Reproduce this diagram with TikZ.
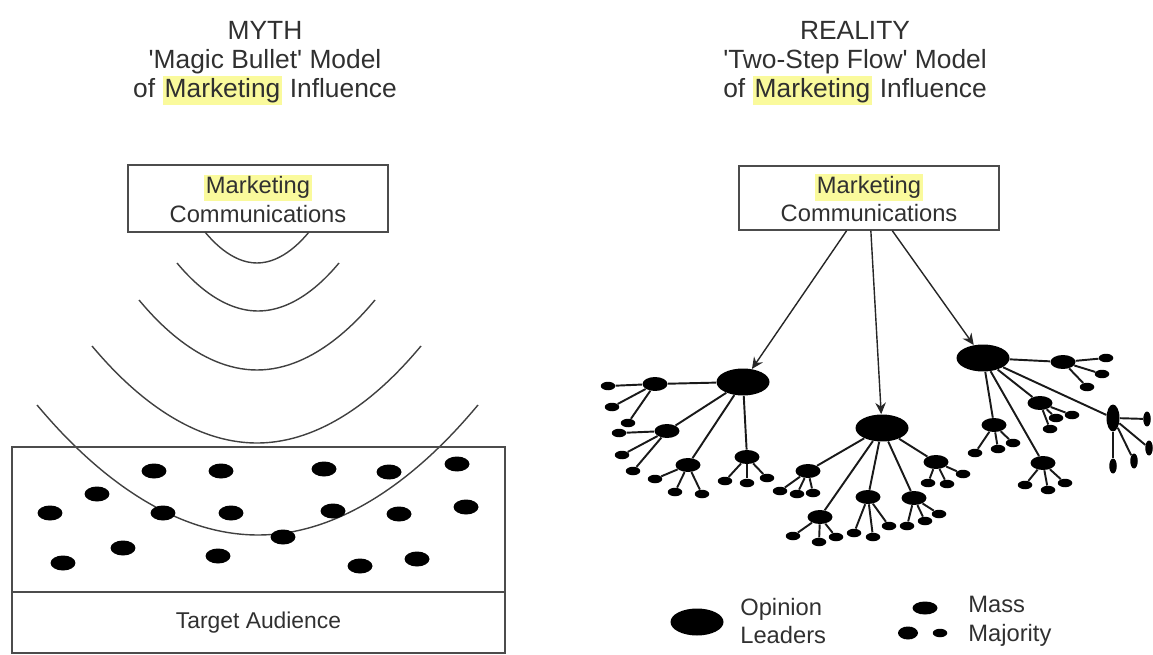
\documentclass[tikz,border=0pt]{standalone}
\usepackage{fontspec}
\setmainfont{Liberation Sans}
\usepackage{xcolor}
\usepackage{tikz}
\usetikzlibrary{arrows.meta,shapes.geometric}

\definecolor{hilite}{HTML}{FAFA9C}
\definecolor{inkgray}{HTML}{303030}
\newcommand{\mkhl}[1]{{\setlength{\fboxsep}{1.2pt}\colorbox{hilite}{#1}}}

\begin{document}
\begin{tikzpicture}[x=0.02cm, y=-0.02cm,
  every node/.style={text=inkgray},
  ttl/.style={align=center, font=\fontsize{15}{16.6}\selectfont},
  msgbox/.style={draw=black!70, line width=0.8pt, minimum width=5.2cm,
                 align=center, font=\fontsize{13.5}{16}\selectfont},
  frame/.style={draw=black!70, line width=0.8pt, minimum width=9.86cm},
  keytext/.style={anchor=west, inner sep=0pt, align=left,
                  font=\fontsize{13.5}{16.4}\selectfont},
  leader/.style={ellipse, fill=black, inner sep=0pt,
                 minimum width=1.06cm, minimum height=0.54cm},
  follower/.style={ellipse, fill=black, inner sep=0pt,
                   minimum width=0.5cm, minimum height=0.28cm},
  mass/.style={ellipse, fill=black, inner sep=0pt,
               minimum width=0.29cm, minimum height=0.17cm},
  crowd/.style={ellipse, fill=black, inner sep=0pt,
                minimum width=0.5cm, minimum height=0.3cm},
  link/.style={line width=1.1pt, black!90},
  push/.style={-{Stealth[length=6.5pt,width=6pt]}, line width=0.8pt, black!85},
  wave/.style={line width=0.8pt, black!75}]
  \useasboundingbox (0,0) rectangle (1153,655);

  % Titles
  \node[ttl] (mythTtl) at (265,63)
    {MYTH\\\textquotesingle Magic Bullet\textquotesingle{} Model\\of \mkhl{Marketing} Influence};
  \node[ttl] (realTtl) at (855,63)
    {REALITY\\\textquotesingle Two-Step Flow\textquotesingle{} Model\\of \mkhl{Marketing} Influence};

  % Left: sender, waves and audience
  \node[msgbox, minimum height=1.34cm] (lbox) at (258,198.5)
    {\mkhl{Marketing}\\Communications};
  \draw[wave] (205,232) parabola bend (257,263) (309,232);
  \draw[wave] (177,263) parabola bend (258,311) (339,263);
  \draw[wave] (139,300) parabola bend (257,370) (375,300);
  \draw[wave] (92,346) parabola bend (257,443) (421,346);
  \draw[wave] (37,405) parabola bend (258,535) (478,405);

  \node[frame, minimum height=2.9cm] (aud) at (258.5,519.5) {};
  \node[frame, minimum height=1.22cm, font=\fontsize{13}{15}\selectfont]
    (target) at (258.5,622.5) {Target Audience};
  \foreach \x/\y [count=\i] in {154/471, 221/471, 324/469, 389/472, 457/464,
      97/494, 50/513, 163/513, 231/513, 333/511, 399/514, 466/507,
      283/537, 123/548, 63/563, 218/556, 360/566, 417/559}
    \node[crowd] (crowd\i) at (\x,\y) {};

  % Right: sender and opinion leaders
  \node[msgbox, minimum height=1.28cm] (rbox) at (869,198)
    {\mkhl{Marketing}\\Communications};
  \node[leader] (ldrA) at (743,382) {};
  \node[leader] (ldrB) at (882,428) {};
  \node[leader] (ldrC) at (983,358) {};
  \foreach \n in {ldrA, ldrB, ldrC}
    \draw[push] (rbox) -- (\n);

  % Second step: followers of each leader
  \foreach \p/\n/\x/\y in {ldrA/fA1/655/384, ldrA/fA2/667/431, ldrA/fA3/688/465,
      ldrA/fA4/747/457, ldrB/fB1/808/471, ldrB/fB2/820/517, ldrB/fB3/868/497,
      ldrB/fB4/914/498, ldrB/fB5/936/462, ldrC/fC1/1063/362, ldrC/fC2/1040/403,
      ldrC/fC3/994/425, ldrC/fC4/1043/463}
  {
    \node[follower] (\n) at (\x,\y) {};
    \draw[link] (\p) -- (\n);
  }
  \node[follower, minimum width=0.26cm, minimum height=0.54cm] (fC5) at (1113,418) {};
  \draw[link] (ldrC) -- (fC5);

  % Mass majority
  \foreach \p/\x/\y [count=\i] in {fA1/608/386, fA1/612/407, fA1/628/423,
      fA2/619/433, fA2/622/455, fA2/633/471, fA3/655/479, fA3/675/492,
      fA3/702/494, fA4/725/481, fA4/747/483, fA4/767/478,
      fB1/780/491, fB1/797/494, fB1/813/493, fB2/793/536, fB2/819/542,
      fB2/836/537, fB3/854/533, fB3/873/537, fB3/889/526,
      fB4/907/526, fB4/925/521, fB4/939/514, fB5/928/483, fB5/947/484,
      fB5/963/474, fC1/1106/358, fC1/1102/374, fC1/1087/387,
      fC2/1072/415, fC2/1056/418, fC2/1050/429, fC3/975/453, fC3/998/449,
      fC3/1013/443, fC4/1025/485, fC4/1048/490, fC4/1065/483}
  {
    \node[mass] (m\i) at (\x,\y) {};
    \draw[link] (\p) -- (m\i);
  }
  \foreach \x/\y [count=\i] in {1147/419, 1149/448, 1134/461, 1113/466}
  {
    \node[mass, minimum width=0.15cm, minimum height=0.3cm] (v\i) at (\x,\y) {};
    \draw[link] (fC5) -- (v\i);
  }

  % Legend
  \node[leader] (keyLdr) at (697,622) {};
  \node[keytext] (keyLdrTxt) at (740,621) {Opinion\\Leaders};
  \node[follower, minimum height=0.26cm] (keyMassA) at (925,608) {};
  \node[follower, minimum width=0.4cm, minimum height=0.26cm] (keyMassB) at (908,633) {};
  \node[mass] (keyMassC) at (940,633) {};
  \node[keytext] (keyMassTxt) at (968,621) {Mass\\Majority};
\end{tikzpicture}
\end{document}
